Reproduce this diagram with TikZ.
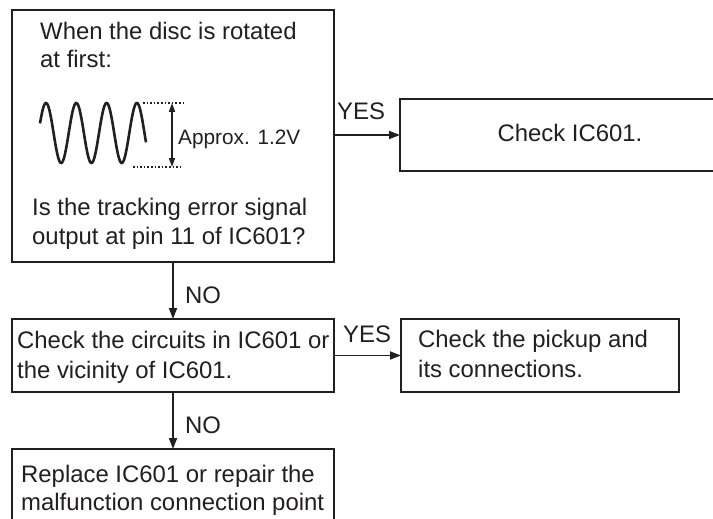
\documentclass[tikz,border=0pt]{standalone}
\usepackage{fontspec}
\setmainfont{Liberation Sans}
\usetikzlibrary{arrows.meta}
\definecolor{ink}{HTML}{231F20}
\tikzset{
  box/.style={draw=ink, rectangle, line width=1.8pt, inner sep=0pt, outer sep=0pt, anchor=north west},
  txt/.style={anchor=base west, inner sep=0pt, text=ink, font=\fontsize{23.9}{29}\selectfont},
  smalltxt/.style={anchor=base west, inner sep=0pt, text=ink, font=\fontsize{20.8}{25}\selectfont},
  arr/.style={draw=ink, line width=1.7pt, -{Triangle[length=11pt,width=8pt]}},
  dimarr/.style={draw=ink, line width=1.6pt, {Triangle[length=9pt,width=6pt]}-{Triangle[length=9pt,width=6pt]}},
  wave/.style={draw=ink, line width=2.6pt},
  dots/.style={draw=ink, line width=1.3pt, dash pattern=on 1.6pt off 2pt}
}
\begin{document}
\begin{tikzpicture}[x=1pt,y=-1pt]
\useasboundingbox (0,0) rectangle (713,519);
\fill[white] (0,0) rectangle (713,519);
\clip (0,0) rectangle (713,519);

% boxes
\node[box, minimum width=322pt, minimum height=252pt] (b1) at (12,10) {};
\node[box, minimum width=340pt, minimum height=72pt] (chk) at (400,99) {};
\node[box, minimum width=322pt, minimum height=73pt] (b2) at (12,319) {};
\node[box, minimum width=278pt, minimum height=73pt] (pick) at (401,319) {};
\node[box, minimum width=322pt, minimum height=100pt] (b3) at (12,449) {};

% texts in box 1
\node[txt] (t1a) at (40,40) {When the disc is rotated};
\node[txt] (t1b) at (40,68) {at first:};
\node[txt] (t1c) at (32,215) {Is the tracking error signal};
\node[txt] (t1d) at (32,244) {output at pin 11 of IC601?};

% waveform
\draw[wave] plot[domain=40:146, samples=200, smooth] (\x, {133-30*cos((\x-46)*11.881)});
\coordinate (dt1) at (143,103);
\coordinate (dt2) at (183,103);
\coordinate (db1) at (133,167);
\coordinate (db2) at (183,167);
\draw[dots] (dt1) -- (dt2);
\draw[dots] (db1) -- (db2);
\coordinate (va) at (172,103);
\coordinate (vb) at (172,167);
\draw[dimarr] (va) -- (vb);
\node[smalltxt] (approx) at (178,144) {Approx. 1.2V};

% other texts
\node[txt, anchor=base] (tchk) at (570,142) {Check IC601.};
\node[txt] (t2a) at (17,348) {Check the circuits in IC601 or};
\node[txt] (t2b) at (17,378) {the vicinity of IC601.};
\node[txt] (tpa) at (418,347) {Check the pickup and};
\node[txt] (tpb) at (418,377) {its connections.};
\node[txt] (t3a) at (21,482) {Replace IC601 or repair the};
\node[txt] (t3b) at (21,510) {malfunction connection point};

% connectors
\draw[arr] (b1.east |- chk.west) -- (chk.west);
\node[txt] (yes1) at (337,120) {YES};
\draw[arr] (b1.south) -- (b2.north);
\node[txt] (no1) at (185,303) {NO};
\draw[arr] (b2.east) -- (pick.west);
\node[txt] (yes2) at (343,342) {YES};
\draw[arr] (b2.south) -- (b3.north);
\node[txt] (no2) at (185,433) {NO};
\end{tikzpicture}
\end{document}
